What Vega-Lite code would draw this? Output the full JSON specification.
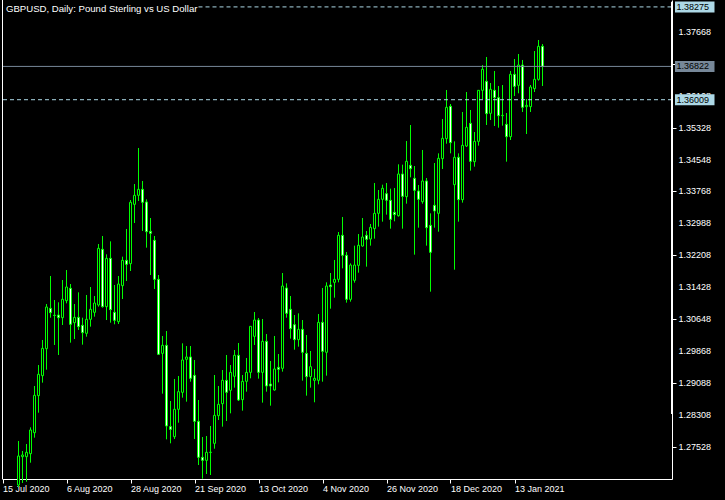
{
"$schema": "https://vega.github.io/schema/vega-lite/v6.json",
"width": 670, "height": 479,
"autosize": "none",
"padding": {"left": 2, "top": 0, "right": 53, "bottom": 21},
"background": "#000000",
"title": {"text": "GBPUSD, Daily:  Pound Sterling vs US Dollar", "anchor": "start", "frame": "group", "orient": "top", "offset": -14, "baseline": "top", "dx": 4, "color": "#ffffff", "font": "Liberation Sans", "fontSize": 9.6, "fontWeight": "normal"},
"config": {
  "view": {"stroke": null},
  "scale": {"continuousPadding": 0},
  "axis": {"grid": false, "title": null, "domainColor": "#ffffff", "tickColor": "#ffffff", "labelColor": "#ffffff", "labelFont": "Liberation Sans", "labelFontSize": 9, "tickSize": 4, "labelOverlap": false, "labelFlush": false}
},
"datasets": {
"levels": [
 {"kind": "top", "p": 1.38275},
 {"kind": "bid", "p": 1.36822},
 {"kind": "low", "p": 1.36009}
],
"yticks": [
 {"v": 1.27528}, {"v": 1.28308}, {"v": 1.29088}, {"v": 1.29868}, {"v": 1.30648}, {"v": 1.31428}, {"v": 1.32208},
 {"v": 1.32988}, {"v": 1.33768}, {"v": 1.34548}, {"v": 1.35328}, {"v": 1.36108}, {"v": 1.36888}, {"v": 1.37668}
],
"bars": [
{"i":4,"d":"2020-07-21","o":1.26600,"h":1.27675,"l":1.26550,"c":1.27308},
{"i":5,"d":"2020-07-22","o":1.27292,"h":1.27430,"l":1.26650,"c":1.27333},
{"i":6,"d":"2020-07-23","o":1.27292,"h":1.27601,"l":1.26680,"c":1.27398},
{"i":7,"d":"2020-07-24","o":1.27365,"h":1.28008,"l":1.27145,"c":1.27943},
{"i":8,"d":"2020-07-27","o":1.27878,"h":1.29018,"l":1.27756,"c":1.28790},
{"i":9,"d":"2020-07-28","o":1.28782,"h":1.29530,"l":1.28366,"c":1.29303},
{"i":10,"d":"2020-07-29","o":1.29270,"h":1.30141,"l":1.29099,"c":1.29937},
{"i":11,"d":"2020-07-30","o":1.29929,"h":1.31020,"l":1.29416,"c":1.30947},
{"i":12,"d":"2020-07-31","o":1.30914,"h":1.31704,"l":1.30686,"c":1.30808},
{"i":13,"d":"2020-08-03","o":1.30745,"h":1.31118,"l":1.30019,"c":1.30740},
{"i":14,"d":"2020-08-04","o":1.30751,"h":1.31061,"l":1.29775,"c":1.30686},
{"i":15,"d":"2020-08-05","o":1.30686,"h":1.31606,"l":1.30507,"c":1.31134},
{"i":16,"d":"2020-08-06","o":1.31101,"h":1.31850,"l":1.31036,"c":1.31435},
{"i":17,"d":"2020-08-07","o":1.31403,"h":1.31508,"l":1.30076,"c":1.30524},
{"i":18,"d":"2020-08-10","o":1.30564,"h":1.31020,"l":1.30165,"c":1.30694},
{"i":19,"d":"2020-08-11","o":1.30694,"h":1.31305,"l":1.30385,"c":1.30467},
{"i":20,"d":"2020-08-12","o":1.30499,"h":1.30686,"l":1.30027,"c":1.30320},
{"i":21,"d":"2020-08-13","o":1.30304,"h":1.31240,"l":1.30222,"c":1.30646},
{"i":22,"d":"2020-08-14","o":1.30646,"h":1.31435,"l":1.30467,"c":1.30890},
{"i":23,"d":"2020-08-17","o":1.30817,"h":1.31215,"l":1.30711,"c":1.31044},
{"i":24,"d":"2020-08-18","o":1.30996,"h":1.32485,"l":1.30955,"c":1.32379},
{"i":25,"d":"2020-08-19","o":1.32355,"h":1.32681,"l":1.30931,"c":1.30955},
{"i":26,"d":"2020-08-20","o":1.30955,"h":1.32233,"l":1.30629,"c":1.32135},
{"i":27,"d":"2020-08-21","o":1.32135,"h":1.32550,"l":1.30564,"c":1.30882},
{"i":28,"d":"2020-08-24","o":1.30817,"h":1.31484,"l":1.30524,"c":1.30621},
{"i":29,"d":"2020-08-25","o":1.30589,"h":1.31704,"l":1.30532,"c":1.31508},
{"i":30,"d":"2020-08-26","o":1.31468,"h":1.32176,"l":1.31142,"c":1.32086},
{"i":31,"d":"2020-08-27","o":1.32086,"h":1.32852,"l":1.31582,"c":1.31989},
{"i":32,"d":"2020-08-28","o":1.32005,"h":1.33560,"l":1.31826,"c":1.33503},
{"i":33,"d":"2020-08-31","o":1.33454,"h":1.33950,"l":1.32998,"c":1.33674},
{"i":34,"d":"2020-09-01","o":1.33674,"h":1.34830,"l":1.33535,"c":1.33820},
{"i":35,"d":"2020-09-02","o":1.33820,"h":1.34024,"l":1.32803,"c":1.33503},
{"i":36,"d":"2020-09-03","o":1.33511,"h":1.33576,"l":1.32396,"c":1.32786},
{"i":37,"d":"2020-09-04","o":1.32795,"h":1.33120,"l":1.31728,"c":1.32746},
{"i":38,"d":"2020-09-07","o":1.32575,"h":1.32681,"l":1.31386,"c":1.31622},
{"i":39,"d":"2020-09-08","o":1.31622,"h":1.31728,"l":1.29775,"c":1.29791},
{"i":40,"d":"2020-09-09","o":1.29815,"h":1.30239,"l":1.28830,"c":1.30011},
{"i":41,"d":"2020-09-10","o":1.30011,"h":1.30361,"l":1.27715,"c":1.28041},
{"i":42,"d":"2020-09-11","o":1.28025,"h":1.28651,"l":1.27618,"c":1.27959},
{"i":43,"d":"2020-09-14","o":1.27780,"h":1.29189,"l":1.27723,"c":1.28448},
{"i":44,"d":"2020-09-15","o":1.28448,"h":1.29262,"l":1.28122,"c":1.28879},
{"i":45,"d":"2020-09-16","o":1.28863,"h":1.30060,"l":1.28733,"c":1.29653},
{"i":46,"d":"2020-09-17","o":1.29669,"h":1.29994,"l":1.28635,"c":1.29726},
{"i":47,"d":"2020-09-18","o":1.29726,"h":1.29994,"l":1.29123,"c":1.29205},
{"i":48,"d":"2020-09-21","o":1.29278,"h":1.29653,"l":1.27723,"c":1.28155},
{"i":49,"d":"2020-09-22","o":1.28155,"h":1.28676,"l":1.27088,"c":1.27276},
{"i":50,"d":"2020-09-23","o":1.27276,"h":1.27772,"l":1.26755,"c":1.27202},
{"i":51,"d":"2020-09-24","o":1.27202,"h":1.27797,"l":1.26869,"c":1.27398},
{"i":52,"d":"2020-09-25","o":1.27395,"h":1.28041,"l":1.26844,"c":1.27400},
{"i":53,"d":"2020-09-28","o":1.27618,"h":1.29286,"l":1.27487,"c":1.28301},
{"i":54,"d":"2020-09-29","o":1.28293,"h":1.29018,"l":1.28187,"c":1.28570},
{"i":55,"d":"2020-09-30","o":1.28586,"h":1.29408,"l":1.28025,"c":1.29156},
{"i":56,"d":"2020-10-01","o":1.29156,"h":1.29775,"l":1.28163,"c":1.28863},
{"i":57,"d":"2020-10-02","o":1.28912,"h":1.29530,"l":1.28350,"c":1.29351},
{"i":58,"d":"2020-10-05","o":1.29254,"h":1.29897,"l":1.28977,"c":1.29767},
{"i":59,"d":"2020-10-06","o":1.29767,"h":1.30068,"l":1.28651,"c":1.28676},
{"i":60,"d":"2020-10-07","o":1.28684,"h":1.29286,"l":1.28415,"c":1.29132},
{"i":61,"d":"2020-10-08","o":1.29132,"h":1.29701,"l":1.28879,"c":1.29351},
{"i":62,"d":"2020-10-09","o":1.29351,"h":1.30483,"l":1.29205,"c":1.30475},
{"i":63,"d":"2020-10-12","o":1.30230,"h":1.30825,"l":1.30019,"c":1.30629},
{"i":64,"d":"2020-10-13","o":1.30629,"h":1.30678,"l":1.29197,"c":1.29351},
{"i":65,"d":"2020-10-14","o":1.29351,"h":1.30654,"l":1.28611,"c":1.30108},
{"i":66,"d":"2020-10-15","o":1.30108,"h":1.30287,"l":1.28879,"c":1.29018},
{"i":67,"d":"2020-10-16","o":1.29066,"h":1.29628,"l":1.28537,"c":1.29018},
{"i":68,"d":"2020-10-19","o":1.28920,"h":1.30239,"l":1.28904,"c":1.29433},
{"i":69,"d":"2020-10-20","o":1.29473,"h":1.29799,"l":1.29107,"c":1.29425},
{"i":70,"d":"2020-10-21","o":1.29449,"h":1.31777,"l":1.29368,"c":1.31460},
{"i":71,"d":"2020-10-22","o":1.31411,"h":1.31525,"l":1.30686,"c":1.30792},
{"i":72,"d":"2020-10-23","o":1.30890,"h":1.31215,"l":1.30174,"c":1.30418},
{"i":73,"d":"2020-10-26","o":1.30515,"h":1.30751,"l":1.29905,"c":1.30149},
{"i":74,"d":"2020-10-27","o":1.30149,"h":1.30792,"l":1.29978,"c":1.30401},
{"i":75,"d":"2020-10-28","o":1.30401,"h":1.30629,"l":1.29148,"c":1.29840},
{"i":76,"d":"2020-10-29","o":1.29815,"h":1.30263,"l":1.28782,"c":1.29246},
{"i":77,"d":"2020-10-30","o":1.29246,"h":1.29872,"l":1.28977,"c":1.29490},
{"i":78,"d":"2020-11-02","o":1.29156,"h":1.29433,"l":1.28620,"c":1.29205},
{"i":79,"d":"2020-11-03","o":1.29156,"h":1.30776,"l":1.29058,"c":1.30572},
{"i":80,"d":"2020-11-04","o":1.30572,"h":1.31411,"l":1.29123,"c":1.29864},
{"i":81,"d":"2020-11-05","o":1.29840,"h":1.31549,"l":1.29270,"c":1.31460},
{"i":82,"d":"2020-11-06","o":1.31484,"h":1.31777,"l":1.30906,"c":1.31443},
{"i":83,"d":"2020-11-09","o":1.31549,"h":1.32095,"l":1.31175,"c":1.31622},
{"i":84,"d":"2020-11-10","o":1.31622,"h":1.32778,"l":1.31549,"c":1.32697},
{"i":85,"d":"2020-11-11","o":1.32697,"h":1.33145,"l":1.31891,"c":1.32209},
{"i":86,"d":"2020-11-12","o":1.32209,"h":1.32290,"l":1.31053,"c":1.31134},
{"i":87,"d":"2020-11-13","o":1.31134,"h":1.32013,"l":1.31077,"c":1.31972},
{"i":88,"d":"2020-11-16","o":1.31598,"h":1.32445,"l":1.31541,"c":1.31972},
{"i":89,"d":"2020-11-17","o":1.31964,"h":1.32729,"l":1.31785,"c":1.32453},
{"i":90,"d":"2020-11-18","o":1.32436,"h":1.33120,"l":1.32420,"c":1.32656},
{"i":91,"d":"2020-11-19","o":1.32697,"h":1.32803,"l":1.31932,"c":1.32599},
{"i":92,"d":"2020-11-20","o":1.32607,"h":1.32974,"l":1.32445,"c":1.32892},
{"i":93,"d":"2020-11-23","o":1.32860,"h":1.33975,"l":1.32616,"c":1.33234},
{"i":94,"d":"2020-11-24","o":1.33234,"h":1.33804,"l":1.32909,"c":1.33576},
{"i":95,"d":"2020-11-25","o":1.33576,"h":1.33934,"l":1.33031,"c":1.33845},
{"i":96,"d":"2020-11-26","o":1.33714,"h":1.33975,"l":1.33202,"c":1.33552},
{"i":97,"d":"2020-11-27","o":1.33552,"h":1.33837,"l":1.32860,"c":1.33088},
{"i":98,"d":"2020-11-30","o":1.33259,"h":1.33853,"l":1.33039,"c":1.33202},
{"i":99,"d":"2020-12-01","o":1.33177,"h":1.34431,"l":1.33153,"c":1.34195},
{"i":100,"d":"2020-12-02","o":1.34195,"h":1.34423,"l":1.32860,"c":1.33649},
{"i":101,"d":"2020-12-03","o":1.33641,"h":1.35001,"l":1.33470,"c":1.34504},
{"i":102,"d":"2020-12-04","o":1.34406,"h":1.35391,"l":1.34113,"c":1.34325},
{"i":103,"d":"2020-12-07","o":1.34089,"h":1.34390,"l":1.32225,"c":1.33796},
{"i":104,"d":"2020-12-08","o":1.33780,"h":1.33926,"l":1.32884,"c":1.33576},
{"i":105,"d":"2020-12-09","o":1.33519,"h":1.34781,"l":1.33470,"c":1.34024},
{"i":106,"d":"2020-12-10","o":1.34024,"h":1.34097,"l":1.32445,"c":1.32884},
{"i":107,"d":"2020-12-11","o":1.32941,"h":1.33234,"l":1.31321,"c":1.32282},
{"i":108,"d":"2020-12-14","o":1.33430,"h":1.34463,"l":1.32884,"c":1.33291},
{"i":109,"d":"2020-12-15","o":1.33234,"h":1.34699,"l":1.32786,"c":1.34577},
{"i":110,"d":"2020-12-16","o":1.34569,"h":1.35538,"l":1.34317,"c":1.35066},
{"i":111,"d":"2020-12-17","o":1.35058,"h":1.36246,"l":1.34935,"c":1.35823},
{"i":112,"d":"2020-12-18","o":1.35847,"h":1.35904,"l":1.34699,"c":1.34960},
{"i":113,"d":"2020-12-21","o":1.33934,"h":1.34992,"l":1.31858,"c":1.34602},
{"i":114,"d":"2020-12-22","o":1.34602,"h":1.34699,"l":1.33031,"c":1.33568},
{"i":115,"d":"2020-12-23","o":1.33568,"h":1.35709,"l":1.33495,"c":1.34895},
{"i":116,"d":"2020-12-24","o":1.34878,"h":1.36197,"l":1.34854,"c":1.35334},
{"i":117,"d":"2020-12-28","o":1.35432,"h":1.35758,"l":1.34276,"c":1.34504},
{"i":118,"d":"2020-12-29","o":1.34496,"h":1.35220,"l":1.34374,"c":1.34992},
{"i":119,"d":"2020-12-30","o":1.34992,"h":1.36246,"l":1.34887,"c":1.36238},
{"i":120,"d":"2020-12-31","o":1.36238,"h":1.36856,"l":1.36026,"c":1.36751},
{"i":121,"d":"2021-01-04","o":1.36458,"h":1.37052,"l":1.35391,"c":1.35668},
{"i":122,"d":"2021-01-05","o":1.35676,"h":1.36417,"l":1.35513,"c":1.36262},
{"i":123,"d":"2021-01-06","o":1.36238,"h":1.36710,"l":1.35367,"c":1.36059},
{"i":124,"d":"2021-01-07","o":1.36059,"h":1.36344,"l":1.35326,"c":1.35619},
{"i":125,"d":"2021-01-08","o":1.35619,"h":1.36368,"l":1.35375,"c":1.35627},
{"i":126,"d":"2021-01-11","o":1.35408,"h":1.35684,"l":1.34496,"c":1.35106},
{"i":127,"d":"2021-01-12","o":1.35106,"h":1.36710,"l":1.35025,"c":1.36629},
{"i":128,"d":"2021-01-13","o":1.36629,"h":1.37003,"l":1.36099,"c":1.36335},
{"i":129,"d":"2021-01-14","o":1.36360,"h":1.37125,"l":1.36165,"c":1.36856},
{"i":130,"d":"2021-01-15","o":1.36856,"h":1.36979,"l":1.35709,"c":1.35823},
{"i":131,"d":"2021-01-18","o":1.35839,"h":1.36026,"l":1.35171,"c":1.35872},
{"i":132,"d":"2021-01-19","o":1.35839,"h":1.36368,"l":1.35709,"c":1.36319},
{"i":133,"d":"2021-01-20","o":1.36279,"h":1.37198,"l":1.36197,"c":1.36506},
{"i":134,"d":"2021-01-21","o":1.36506,"h":1.37467,"l":1.36474,"c":1.37312},
{"i":135,"d":"2021-01-22","o":1.37312,"h":1.37369,"l":1.36344,"c":1.36822}
]
},
"layer": [
 {
  "data": {"name": "bars"},
  "mark": {"type": "rule", "color": "#00ff00", "strokeWidth": 1},
  "encoding": {
   "x": {"field": "i", "type": "quantitative", "scale": {"domain": [-0.125, 167.375], "nice": false, "zero": false, "padding": 0},
         "axis": {"orient": "bottom", "values": [0,16,32,48,64,80,96,112,128], "labelAlign": "left", "labelBaseline": "top", "labelPadding": 1, "labelOverlap": false, "labelFlush": false,
                  "labelExpr": "['15 Jul 2020','6 Aug 2020','28 Aug 2020','21 Sep 2020','13 Oct 2020','4 Nov 2020','26 Nov 2020','18 Dec 2020','13 Jan 2021'][round(datum.value/16)]"}},
   "y": {"field": "l", "type": "quantitative", "scale": {"domain": [1.267466, 1.384438], "nice": false, "zero": false, "padding": 0},
         "axis": {"orient": "right", "values": [1.27528,1.28308,1.29088,1.29868,1.30648,1.31428,1.32208,1.32988,1.33768,1.34548,1.35328,1.36108,1.36888,1.37668], "labels": false}},
   "y2": {"field": "h"}
  }
 },
 {
  "data": {"name": "bars"},
  "mark": {"type": "bar", "size": 2, "stroke": "#00ff00", "strokeWidth": 1},
  "encoding": {
   "x": {"field": "i", "type": "quantitative"},
   "y": {"field": "o", "type": "quantitative"},
   "y2": {"field": "c"},
   "fill": {"condition": {"test": "datum.c < datum.o", "value": "#ffffff"}, "value": "#000000"}
  }
 },
 {
  "data": {"name": "levels"},
  "transform": [{"filter": "datum.kind == 'top'"}],
  "mark": {"type": "rule", "color": "#add8e6", "strokeWidth": 1, "strokeDash": [4, 3]},
  "encoding": {
   "x": {"datum": 49, "type": "quantitative"},
   "x2": {"datum": 167.375},
   "y": {"field": "p", "type": "quantitative"}
  }
 },
 {
  "data": {"name": "levels"},
  "transform": [{"filter": "datum.kind == 'bid'"}],
  "mark": {"type": "rule", "color": "#778899", "strokeWidth": 1},
  "encoding": {
   "y": {"field": "p", "type": "quantitative"}
  }
 },
 {
  "data": {"name": "levels"},
  "transform": [{"filter": "datum.kind == 'low'"}],
  "mark": {"type": "rule", "color": "#add8e6", "strokeWidth": 1, "strokeDash": [4, 3]},
  "encoding": {
   "y": {"field": "p", "type": "quantitative"}
  }
 },
 {
  "data": {"name": "levels"},
  "transform": [{"filter": "datum.kind == 'top'"}],
  "mark": {"type": "rule", "color": "#ffffff", "strokeWidth": 1},
  "encoding": {
   "x": {"datum": 0, "type": "quantitative"}
  }
 },
 {
  "data": {"name": "levels"},
  "transform": [{"filter": "datum.kind == 'top'"}],
  "mark": {"type": "rule", "color": "#ffffff", "strokeWidth": 2},
  "encoding": {
   "x": {"datum": 167.375, "type": "quantitative"},
   "y": {"datum": 1.28332, "type": "quantitative"},
   "y2": {"datum": 1.3840}
  }
 },
 {
  "data": {"name": "yticks"},
  "mark": {"type": "text", "align": "left", "baseline": "middle", "color": "#ffffff", "font": "Liberation Sans", "fontSize": 9},
  "encoding": {
   "x": {"datum": 169.0, "type": "quantitative"},
   "y": {"field": "v", "type": "quantitative"},
   "text": {"field": "v", "type": "quantitative", "format": ".5f"}
  }
 },
 {
  "data": {"name": "levels"},
  "mark": {"type": "rect", "yOffset": -5.5, "y2Offset": 5.5},
  "encoding": {
   "x": {"datum": 168.125, "type": "quantitative"},
   "x2": {"datum": 178},
   "y": {"field": "p", "type": "quantitative"},
   "y2": {"field": "p"},
   "color": {"field": "kind", "type": "nominal", "scale": {"domain": ["top", "bid", "low"], "range": ["#add8e6", "#778899", "#add8e6"]}, "legend": null}
  }
 },
 {
  "data": {"name": "levels"},
  "mark": {"type": "text", "align": "left", "baseline": "middle", "color": "#000000", "font": "Liberation Sans", "fontSize": 9},
  "encoding": {
   "x": {"datum": 168.5, "type": "quantitative"},
   "y": {"field": "p", "type": "quantitative"},
   "text": {"field": "p", "type": "quantitative", "format": ".5f"}
  }
 }
]
}
